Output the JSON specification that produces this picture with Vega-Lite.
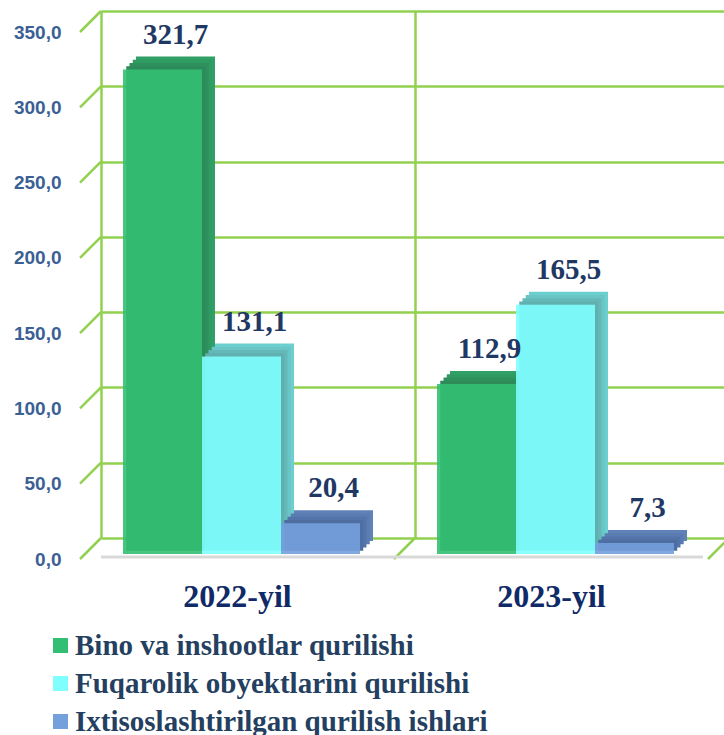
{
  "$schema": "https://vega.github.io/schema/vega-lite/v6.json",
  "autosize": {"type": "none"},
  "padding": {"left": 101, "top": 11, "right": 0, "bottom": 197},
  "width": 623,
  "height": 527,
  "config": {
    "view": {"stroke": null},
    "locale": {"number": {"decimal": ",", "thousands": " ", "grouping": [3], "currency": ["", ""]}},
    "axisX": {
      "title": null, "domain": false, "ticks": false, "tickSize": 0,
      "grid": true, "gridColor": "#92d050", "gridWidth": 2.5, "bandPosition": 0,
      "labelFont": "Liberation Serif", "labelFontSize": 32, "labelFontWeight": "bold",
      "labelColor": "#0f2a66", "labelPadding": 43, "labelOffset": -20.5, "labelAngle": 0
    },
    "axisY": {
      "title": null, "domain": false, "ticks": false, "tickSize": 0,
      "grid": true, "gridColor": "#92d050", "gridWidth": 2.5,
      "labelFont": "Liberation Sans", "labelFontSize": 19, "labelFontWeight": "bold",
      "labelColor": "#3a6094", "labelPadding": 40, "labelOffset": 21,
      "labelFlush": false, "labelOverlap": false
    },
    "legend": {
      "orient": "none", "legendX": -55, "legendY": 620, "title": null,
      "symbolType": "square", "symbolSize": 225, "symbolStrokeWidth": 0, "symbolOpacity": 1,
      "labelFont": "Liberation Serif", "labelFontSize": 29, "labelFontWeight": "bold",
      "labelColor": "#243f60", "labelLimit": 0, "rowPadding": 8, "padding": 0, "labelOffset": 0
    }
  },
  "datasets": {
    "bars": [
      {"year": "2022-yil", "series": "Bino va inshootlar qurilishi", "value": 321.7},
      {"year": "2022-yil", "series": "Fuqarolik obyektlarini qurilishi", "value": 131.1},
      {"year": "2022-yil", "series": "Ixtisoslashtirilgan qurilish ishlari", "value": 20.4},
      {"year": "2023-yil", "series": "Bino va inshootlar qurilishi", "value": 112.9},
      {"year": "2023-yil", "series": "Fuqarolik obyektlarini qurilishi", "value": 165.5},
      {"year": "2023-yil", "series": "Ixtisoslashtirilgan qurilish ishlari", "value": 7.3}
    ],
    "ticks": [{"v": 0}, {"v": 50}, {"v": 100}, {"v": 150}, {"v": 200}, {"v": 250}, {"v": 300}, {"v": 350}]
  },
  "layer": [
    {
      "data": {"name": "ticks"},
      "mark": {"type": "point", "shape": "M1,-1L-1,1", "size": 441, "filled": false, "stroke": "#92d050", "strokeWidth": 2.5, "opacity": 1, "xOffset": -10.5, "yOffset": 10.5},
      "encoding": {
        "x": {"datum": "2022-yil", "type": "nominal", "bandPosition": 0, "title": null,
              "scale": {"domain": ["2022-yil", "2023-yil"], "range": [0, 628], "paddingInner": 0, "paddingOuter": 0}},
        "y": {"field": "v", "type": "quantitative", "title": null,
              "scale": {"domain": [0, 350], "nice": false},
              "axis": {"values": [0, 50, 100, 150, 200, 250, 300, 350], "format": ".1f"}}
      }
    },
    {
      "data": {"values": [{}]},
      "mark": {"type": "point", "shape": "M1,-1L-1,1", "size": 441, "filled": false, "stroke": "#92d050", "strokeWidth": 2.5, "opacity": 1, "xOffset": -10.5, "yOffset": 10.5},
      "encoding": {
        "x": {"datum": "2023-yil", "type": "nominal", "bandPosition": 0, "title": null},
        "y": {"datum": 0, "type": "quantitative", "title": null}
      }
    },
    {
      "data": {"values": [{}]},
      "mark": {"type": "point", "shape": "M1,-1L-1,1", "size": 441, "filled": false, "stroke": "#92d050", "strokeWidth": 2.5, "opacity": 1, "xOffset": -10.5, "yOffset": 10.5},
      "encoding": {
        "x": {"datum": "2023-yil", "type": "nominal", "bandPosition": 1, "title": null},
        "y": {"datum": 0, "type": "quantitative", "title": null}
      }
    },
    {
      "data": {"values": [{}]},
      "mark": {"type": "rule", "color": "#d9d9d9", "strokeWidth": 3, "yOffset": 19, "xOffset": -21, "x2Offset": -21},
      "encoding": {
        "y": {"datum": 0, "type": "quantitative", "title": null}
      }
    },
    {
      "data": {"name": "bars"},
      "mark": {"type": "bar", "yOffset": 3, "y2Offset": 3, "opacity": 1},
      "encoding": {
        "x": {"field": "year", "type": "nominal", "title": null},
        "xOffset": {"field": "series", "type": "nominal",
                    "scale": {"domain": ["Bino va inshootlar qurilishi", "Fuqarolik obyektlarini qurilishi", "Ixtisoslashtirilgan qurilish ishlari"], "range": [35, 272], "paddingInner": 0, "paddingOuter": 0}},
        "y": {"field": "value", "type": "quantitative", "title": null},
        "color": {"field": "series", "type": "nominal", "legend": null,
                  "scale": {"domain": ["Bino va inshootlar qurilishi", "Fuqarolik obyektlarini qurilishi", "Ixtisoslashtirilgan qurilish ishlari"], "range": ["#31a066", "#6ccfcf", "#5f82b8"]}}
      }
    },
    {
      "data": {"name": "bars"},
      "mark": {"type": "bar", "yOffset": 6.25, "y2Offset": 6.25, "opacity": 1},
      "encoding": {
        "x": {"field": "year", "type": "nominal", "title": null},
        "xOffset": {"field": "series", "type": "nominal",
                    "scale": {"domain": ["Bino va inshootlar qurilishi", "Fuqarolik obyektlarini qurilishi", "Ixtisoslashtirilgan qurilish ishlari"], "range": [31.75, 268.75], "paddingInner": 0, "paddingOuter": 0}},
        "y": {"field": "value", "type": "quantitative", "title": null},
        "color": {"field": "series", "type": "nominal", "legend": null,
                  "scale": {"domain": ["Bino va inshootlar qurilishi", "Fuqarolik obyektlarini qurilishi", "Ixtisoslashtirilgan qurilish ishlari"], "range": ["#309a63", "#6ac6c6", "#5a7cb2"]}}
      }
    },
    {
      "data": {"name": "bars"},
      "mark": {"type": "bar", "yOffset": 9.5, "y2Offset": 9.5, "opacity": 1},
      "encoding": {
        "x": {"field": "year", "type": "nominal", "title": null},
        "xOffset": {"field": "series", "type": "nominal",
                    "scale": {"domain": ["Bino va inshootlar qurilishi", "Fuqarolik obyektlarini qurilishi", "Ixtisoslashtirilgan qurilish ishlari"], "range": [28.5, 265.5], "paddingInner": 0, "paddingOuter": 0}},
        "y": {"field": "value", "type": "quantitative", "title": null},
        "color": {"field": "series", "type": "nominal", "legend": null,
                  "scale": {"domain": ["Bino va inshootlar qurilishi", "Fuqarolik obyektlarini qurilishi", "Ixtisoslashtirilgan qurilish ishlari"], "range": ["#2e905c", "#64b8b8", "#5274aa"]}}
      }
    },
    {
      "data": {"name": "bars"},
      "mark": {"type": "bar", "yOffset": 12.75, "y2Offset": 12.75, "opacity": 1},
      "encoding": {
        "x": {"field": "year", "type": "nominal", "title": null},
        "xOffset": {"field": "series", "type": "nominal",
                    "scale": {"domain": ["Bino va inshootlar qurilishi", "Fuqarolik obyektlarini qurilishi", "Ixtisoslashtirilgan qurilish ishlari"], "range": [25.25, 262.25], "paddingInner": 0, "paddingOuter": 0}},
        "y": {"field": "value", "type": "quantitative", "title": null},
        "color": {"field": "series", "type": "nominal", "legend": null,
                  "scale": {"domain": ["Bino va inshootlar qurilishi", "Fuqarolik obyektlarini qurilishi", "Ixtisoslashtirilgan qurilish ishlari"], "range": ["#2d8a59", "#61b0b0", "#4e6ea2"]}}
      }
    },
    {
      "data": {"name": "bars"},
      "mark": {"type": "bar", "yOffset": 16, "y2Offset": 16, "opacity": 0.9},
      "encoding": {
        "x": {"field": "year", "type": "nominal", "title": null},
        "xOffset": {"field": "series", "type": "nominal",
                    "scale": {"domain": ["Bino va inshootlar qurilishi", "Fuqarolik obyektlarini qurilishi", "Ixtisoslashtirilgan qurilish ishlari"], "range": [22, 259], "paddingInner": 0, "paddingOuter": 0}},
        "y": {"field": "value", "type": "quantitative", "title": null},
        "color": {"field": "series", "type": "nominal",
                  "scale": {"domain": ["Bino va inshootlar qurilishi", "Fuqarolik obyektlarini qurilishi", "Ixtisoslashtirilgan qurilish ishlari"], "range": ["#33bf73", "#80ffff", "#74a0dc"]}}
      }
    },
    {
      "data": {"name": "bars"},
      "mark": {"type": "text", "font": "Liberation Serif", "fontSize": 29, "fontWeight": "bold", "color": "#1f3864", "baseline": "alphabetic", "align": "center", "yOffset": -10},
      "encoding": {
        "x": {"field": "year", "type": "nominal", "title": null},
        "xOffset": {"field": "series", "type": "nominal",
                    "scale": {"type": "point", "domain": ["Bino va inshootlar qurilishi", "Fuqarolik obyektlarini qurilishi", "Ixtisoslashtirilgan qurilish ishlari"], "range": [74.5, 232.5], "padding": 0}},
        "y": {"field": "value", "type": "quantitative", "title": null},
        "text": {"field": "value", "type": "quantitative", "format": ".1f"}
      }
    }
  ],
  "resolve": {"scale": {"xOffset": "independent", "color": "independent"}}
}
